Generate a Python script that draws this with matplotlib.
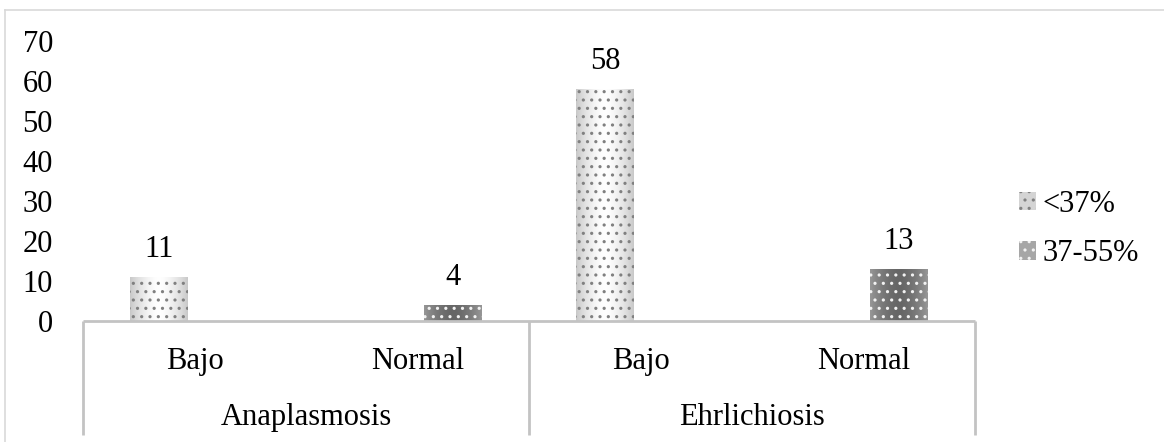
import numpy as np
import matplotlib
matplotlib.use('Agg')
import matplotlib.pyplot as plt
from matplotlib.lines import Line2D
from matplotlib.patches import Patch

# data
groups = ['Anaplasmosis', 'Ehrlichiosis']
categories = ['Bajo', 'Normal', 'Bajo', 'Normal']
series = ['<37%', '37-55%']
low_vals = [11, np.nan, 58, np.nan]      # <37%
mid_vals = [np.nan, 4, np.nan, 13]       # 37-55%

plt.rcParams['font.family'] = ['Liberation Serif', 'DejaVu Serif']
plt.rcParams['font.size'] = 22
plt.rcParams['hatch.linewidth'] = 1.1

W, H = 1164, 442
fig = plt.figure(figsize=(W / 100, H / 100), dpi=100)
ax = fig.add_axes([83 / W, 1 - 321 / H, (975 - 83) / W, 280 / H])

x = np.arange(len(categories))
offset = 0.158
width = 0.26


def shade(rect, edge, center):
    # horizontal gradient, darker/lighter at the sides like the Excel fill
    x0, w, h = rect.get_x(), rect.get_width(), rect.get_height()
    if not np.isfinite(h) or h <= 0:
        return
    t = np.abs(np.linspace(-1, 1, 80)) ** 1.6
    edge = np.array(matplotlib.colors.to_rgb(edge))
    center = np.array(matplotlib.colors.to_rgb(center))
    img = (center[None, :] * (1 - t[:, None]) + edge[None, :] * t[:, None])[None, :, :]
    im = ax.imshow(img, extent=[x0, x0 + w, 0, h], aspect='auto',
                   interpolation='bilinear', zorder=2)
    im.set_clip_path(rect)


styles = [
    dict(edge='#c9c9c9', center='#ffffff', dots='#808080', legend='#d4d4d4'),
    dict(edge='#969696', center='#666666', dots='#f2f2f2', legend='#a6a6a6'),
]

for vals, off, st in [(low_vals, -offset, styles[0]), (mid_vals, offset, styles[1])]:
    bars = ax.bar(x + off, vals, width, facecolor='none', edgecolor=st['dots'],
                  hatch='..', linewidth=0, zorder=3)
    for rect in bars:
        shade(rect, st['edge'], st['center'])
    for xi, v in zip(x + off, vals):
        if np.isfinite(v):
            ax.annotate(f'{v:g}', (xi, v), xytext=(0, 14.4), textcoords='offset points',
                        ha='center', va='baseline')

ax.set_xlim(-0.5, 3.5)
ax.set_ylim(0, 70)
ax.set_yticks(range(0, 71, 10))
ax.set_xticks([])
ax.tick_params(axis='y', length=0, pad=21.6)
for s in ax.spines.values():
    s.set_visible(False)

line_col = '#c3c3c3'
ax.plot([-0.5, 3.5], [0, 0], color=line_col, lw=2.0, clip_on=False, zorder=4,
        solid_capstyle='butt')
xt = ax.get_xaxis_transform()
for xd in [-0.5, 1.5, 3.5]:
    ax.plot([xd, xd], [0, -0.407], color=line_col, lw=2.0, transform=xt,
            clip_on=False, solid_capstyle='butt')

for xi, c in zip(x, categories):
    ax.text(xi, -0.146, c, transform=xt, ha='center', va='center')
for gi, g in enumerate(groups):
    ax.text(2 * gi + 0.5, -0.346, g, transform=xt, ha='center', va='center')

handles = [Patch(facecolor=st['legend'], edgecolor=st['dots'], hatch='..', linewidth=0)
           for st in styles]
fig.legend(handles, series, loc='center left', bbox_to_anchor=(1019 / W, 1 - 229 / H),
           frameon=False, handlelength=0.55, handleheight=0.55, handletextpad=0.22,
           labelspacing=0.68, borderpad=0, borderaxespad=0)

# light outer frame (top and left edges visible in the reference)
fig.add_artist(Line2D([5 / W, 1], [1 - 9.5 / H, 1 - 9.5 / H], color='#d9d9d9', lw=1.2))
fig.add_artist(Line2D([5 / W, 5 / W], [0, 1 - 9.5 / H], color='#d9d9d9', lw=1.2))

fig.savefig('out.png', dpi=100)
